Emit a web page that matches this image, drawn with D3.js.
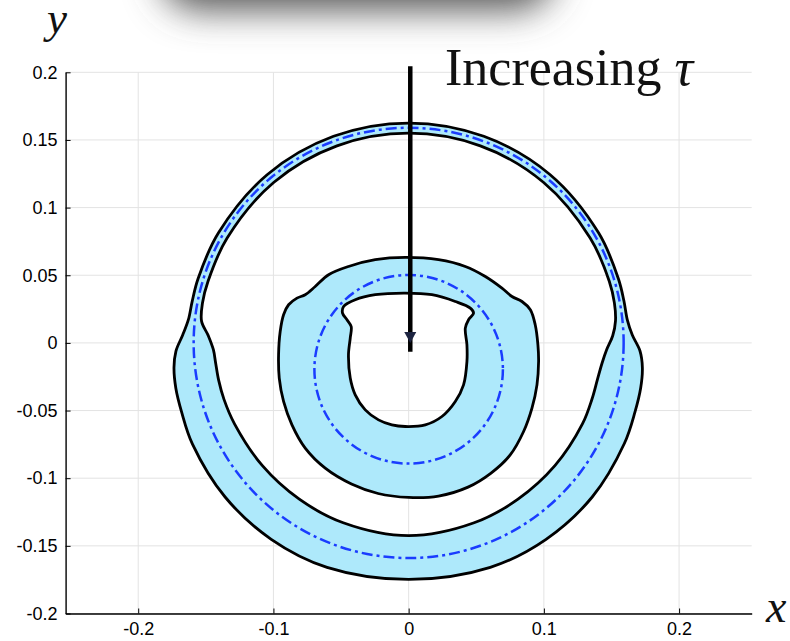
<!DOCTYPE html>
<html>
<head>
<meta charset="utf-8">
<script src="https://cdn.jsdelivr.net/npm/d3@7/dist/d3.min.js"></script>
<style>
  html, body { margin: 0; padding: 0; background: #fff; }
  svg { display: block; }
</style>
</head>
<body>
<svg id="chart" width="790" height="641"></svg>
<script>
// Axis ticks and labels
const xTicks = [-0.2, -0.1, 0, 0.1, 0.2];
const xTickLabels = ["-0.2", "-0.1", "0", "0.1", "0.2"];
const yTicks = [0.2, 0.15, 0.1, 0.05, 0, -0.05, -0.1, -0.15, -0.2];
const yTickLabels = ["0.2", "0.15", "0.1", "0.05", "0", "-0.05", "-0.1", "-0.15", "-0.2"];

// Large ring, described in polar form about the origin:
// polar angle (degrees, walking clockwise from the top) and boundary radii
const bigAngles = [90, 70, 50, 30, 17, 11, 6, 2, -2, -6, -11, -17, -25, -40, -55, -70, -90,
  -110, -125, -140, -155, -163, -169, -174, -178, -182, -186, -191, -197, -210, -230, -250];
const bigOuterR = [0.1625, 0.1625, 0.1625, 0.1623, 0.1622, 0.1622, 0.1626, 0.1655, 0.1712,
  0.1738, 0.1748, 0.175, 0.176, 0.1772, 0.1772, 0.1765, 0.1748,
  0.1765, 0.1772, 0.1772, 0.1765, 0.1755, 0.1754, 0.1745, 0.1722, 0.1672, 0.1638,
  0.163, 0.1628, 0.1625, 0.1625, 0.1625];
const bigInnerR = [0.155, 0.155, 0.155, 0.155, 0.1552, 0.155, 0.1538, 0.151, 0.1465,
  0.1438, 0.1422, 0.1418, 0.1418, 0.1412, 0.141, 0.1415, 0.1425,
  0.1415, 0.141, 0.1412, 0.142, 0.1428, 0.1432, 0.1435, 0.1445, 0.1482, 0.154,
  0.1553, 0.1552, 0.155, 0.155, 0.155];

// Small ring: outer boundary (x, y)
const smallOuter = [
  [-0.0025, 0.0632], [0.0221, 0.0615], [0.0419, 0.0565], [0.0567, 0.0491], [0.069, 0.0405],
  [0.0764, 0.0343], [0.0838, 0.0306], [0.090, 0.0245], [0.0936, 0.0134], [0.0956, -0.0014],
  [0.0961, -0.0138], [0.0949, -0.031], [0.0912, -0.0482], [0.085, -0.0655], [0.0751, -0.0828],
  [0.0607, -0.0964], [0.0439, -0.1066], [0.0221, -0.1132], [0, -0.1142], [-0.0226, -0.1113],
  [-0.0423, -0.1043], [-0.0617, -0.0926], [-0.0765, -0.0778], [-0.0863, -0.0606],
  [-0.0925, -0.0433], [-0.0957, -0.026], [-0.0962, -0.0088], [-0.095, 0.0084],
  [-0.0925, 0.0208], [-0.0888, 0.0282], [-0.0826, 0.0331], [-0.0765, 0.0356],
  [-0.0691, 0.0417], [-0.0592, 0.0504], [-0.0445, 0.0565], [-0.0247, 0.0615]
];

// Small ring: inner boundary
const smallInner = [
  [-0.0025, 0.0368], [0.0172, 0.0356], [0.0345, 0.0306], [0.0456, 0.0257], [0.048, 0.022],
  [0.0443, 0.0171], [0.0419, 0.0109], [0.0431, -0.0014], [0.0431, -0.0138], [0.0406, -0.031],
  [0.0345, -0.0433], [0.0246, -0.0544], [0.0123, -0.0606], [-0.0025, -0.0618],
  [-0.0124, -0.0606], [-0.0223, -0.0569], [-0.0321, -0.0495], [-0.0395, -0.0384],
  [-0.0432, -0.026], [-0.0445, -0.0088], [-0.0432, 0.0036], [-0.0425, 0.0121],
  [-0.0456, 0.0171], [-0.0489, 0.022], [-0.0481, 0.0269], [-0.0395, 0.0319], [-0.0247, 0.0356]
];

// Reference circles (centre x, centre y, radius)
const refCircles = [
  { cx: 0, cy: 0, r: 0.159 },
  { cx: 0, cy: -0.0195, r: 0.0697 }
];

// Arrow: from (x, yStart) down to (x, yEnd), head tip at yTip
const arrowData = { x: 0.0012, yStart: 0.2045, yEnd: -0.0065, yTip: 0.0 };

const svg = d3.select("#chart");

const x = d3.scaleLinear().domain([-0.2537, 0.2537]).range([65.6, 751.7]);
const y = d3.scaleLinear().domain([-0.2, 0.2]).range([613.5, 72.3]);

// polar boundary -> cartesian points
const toXY = (angles, radii) => angles.map((a, i) => {
  const t = a * Math.PI / 180;
  return [radii[i] * Math.cos(t), radii[i] * Math.sin(t)];
});
const bigOuter = toXY(bigAngles, bigOuterR);
const bigInner = toXY(bigAngles, bigInnerR);

// soft shadow along the top edge
const defs = svg.append("defs");
const blur = defs.append("filter").attr("id", "soft")
  .attr("x", "-50%").attr("y", "-50%").attr("width", "200%").attr("height", "200%");
blur.append("feGaussianBlur").attr("stdDeviation", 18);
svg.append("rect")
  .attr("x", 160).attr("y", -80).attr("width", 395).attr("height", 90)
  .attr("rx", 40)
  .attr("fill", "#555")
  .attr("filter", "url(#soft)");

// grid
const grid = svg.append("g").attr("stroke", "#e3e3e3").attr("stroke-width", 1);
grid.selectAll("line.vx").data(xTicks).join("line")
  .attr("x1", d => x(d)).attr("x2", d => x(d))
  .attr("y1", y(-0.2)).attr("y2", y(0.2));
grid.selectAll("line.hy").data(yTicks).join("line")
  .attr("y1", d => y(d)).attr("y2", d => y(d))
  .attr("x1", x(-0.2537)).attr("x2", x(0.2537));

// ring shapes
const line = d3.line()
  .x(d => x(d[0])).y(d => y(d[1]))
  .curve(d3.curveCatmullRomClosed.alpha(0.5));

const rings = [[bigOuter, bigInner], [smallOuter, smallInner]];
svg.append("g").selectAll("path").data(rings).join("path")
  .attr("d", d => line(d[0]) + line(d[1]))
  .attr("fill", "#aee9fb")
  .attr("fill-rule", "evenodd")
  .attr("stroke", "#000")
  .attr("stroke-width", 2.8)
  .attr("stroke-linejoin", "round");

// dash-dot reference circles
svg.append("g").selectAll("ellipse").data(refCircles).join("ellipse")
  .attr("cx", d => x(d.cx)).attr("cy", d => y(d.cy))
  .attr("rx", d => x(d.r) - x(0)).attr("ry", d => y(0) - y(d.r))
  .attr("fill", "none")
  .attr("stroke", "#1a3cff")
  .attr("stroke-width", 2.5)
  .attr("stroke-dasharray", "11,4,3,4");

// axes
const xAxis = d3.axisBottom(x).tickValues(xTicks)
  .tickFormat((d, i) => xTickLabels[i])
  .tickSizeInner(-5).tickSizeOuter(0).tickPadding(9);
const yAxis = d3.axisLeft(y).tickValues(yTicks)
  .tickFormat((d, i) => yTickLabels[i])
  .tickSizeInner(-5).tickSizeOuter(0).tickPadding(8);

const gx = svg.append("g").attr("transform", `translate(0,${y(-0.2)})`).call(xAxis);
const gy = svg.append("g").attr("transform", `translate(${x(-0.2537)},0)`).call(yAxis);
[gx, gy].forEach(g => {
  g.select(".domain").attr("stroke", "#000").attr("stroke-width", 1.4);
  g.selectAll(".tick line").attr("stroke", "#000").attr("stroke-width", 1);
  g.selectAll(".tick text")
    .attr("fill", "#000")
    .style("font-family", "'Liberation Sans', Arial, sans-serif")
    .style("font-size", "18px");
});

// arrow
const ax = x(arrowData.x);
svg.append("line")
  .attr("x1", ax).attr("x2", ax)
  .attr("y1", y(arrowData.yStart)).attr("y2", y(arrowData.yEnd))
  .attr("stroke", "#000").attr("stroke-width", 4.5);
const tip = y(arrowData.yTip);
svg.append("path")
  .attr("d", `M${ax - 6},${tip - 11} L${ax + 6},${tip - 11} L${ax},${tip} Z`)
  .attr("fill", "#1c2340");

// annotation and axis names
const serif = "'Liberation Serif', 'DejaVu Serif', serif";
const ann = svg.append("text")
  .attr("x", 445).attr("y", 85)
  .style("font-family", serif).style("font-size", "52px").attr("fill", "#111");
ann.append("tspan").text("Increasing ");
ann.append("tspan").style("font-style", "italic").text("τ");

svg.append("text").attr("x", 47).attr("y", 33)
  .style("font-family", serif).style("font-style", "italic").style("font-size", "45px")
  .attr("fill", "#111").text("y");
svg.append("text").attr("x", 766).attr("y", 622)
  .style("font-family", serif).style("font-style", "italic").style("font-size", "46px")
  .attr("fill", "#111").text("x");
</script>
</body>
</html>
